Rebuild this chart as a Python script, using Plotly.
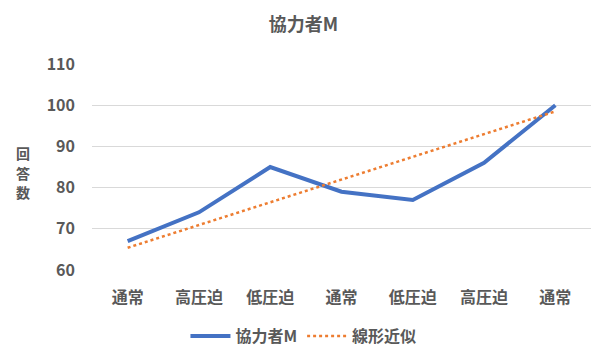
import plotly.graph_objects as go

# Conditions in the order they were measured
categories = ["通常", "高圧迫", "低圧迫", "通常", "低圧迫", "高圧迫", "通常"]
answers = [67, 74, 85, 79, 77, 86, 100]
# Linear trend line values at the first and last condition
trend_ends = [65.4, 98.5]

series_name = "協力者M"
trend_name = "線形近似"
y_title = "回答数"
y_ticks = [60, 70, 80, 90, 100, 110]

FONT = "Noto Sans CJK JP"
TEXT = "#595959"
W, H = 595, 348
M_L, M_R, M_T, M_B = 92, 4, 64, 78

xs = list(range(len(categories)))

fig = go.Figure()
fig.add_trace(go.Scatter(
    x=xs, y=answers, mode="lines", name=f"<b>{series_name}</b>",
    line=dict(color="#4472C4", width=4),
))
fig.add_trace(go.Scatter(
    x=[xs[0], xs[-1]], y=trend_ends, mode="lines", name=f"<b>{trend_name}</b>",
    line=dict(color="#ED7D31", width=2.5, dash="dot"),
))

fig.update_layout(
    width=W, height=H,
    margin=dict(l=M_L, r=M_R, t=M_T, b=M_B, autoexpand=False),
    paper_bgcolor="white", plot_bgcolor="white",
    font=dict(family=FONT, color=TEXT, size=16),
    title=dict(text="<b>協力者M</b>", x=0.51, xanchor="center",
               y=0.93, yanchor="middle",
               font=dict(size=18, color=TEXT, family=FONT)),
    showlegend=True,
    legend=dict(orientation="h", xref="container", x=0.51, xanchor="center",
                yref="container", y=1 - 336 / H, yanchor="middle",
                font=dict(size=16, color=TEXT, family=FONT),
                itemwidth=40, traceorder="normal"),
)
fig.update_xaxes(
    tickmode="array", tickvals=xs, ticktext=[f"<b>{c}</b>" for c in categories],
    range=[-0.5, len(categories) - 0.5], automargin=False,
    showgrid=False, zeroline=False, showline=False, ticks="",
    ticklabelstandoff=16,
    tickfont=dict(size=16, color=TEXT, family=FONT),
)
fig.update_yaxes(
    range=[60, 110], tickvals=y_ticks, ticktext=[f"<b>{t}</b>" for t in y_ticks],
    automargin=False,
    showgrid=True, gridcolor="#D9D9D9", gridwidth=1,
    zeroline=False, showline=False, ticks="", ticklabelstandoff=16,
    tickfont=dict(size=16, color=TEXT, family=FONT),
)
# Vertical axis title, one character per row
plot_h = H - M_T - M_B
plot_w = W - M_L - M_R
for i, ch in enumerate(y_title):
    py = 153 + i * 19.5
    fig.add_annotation(
        text=f"<b>{ch}</b>", xref="paper", yref="paper",
        x=(23 - M_L) / plot_w, y=(H - M_B - py) / plot_h,
        xanchor="center", yanchor="middle", showarrow=False,
        font=dict(size=14, color=TEXT, family=FONT),
    )

fig.write_html("out.html")
